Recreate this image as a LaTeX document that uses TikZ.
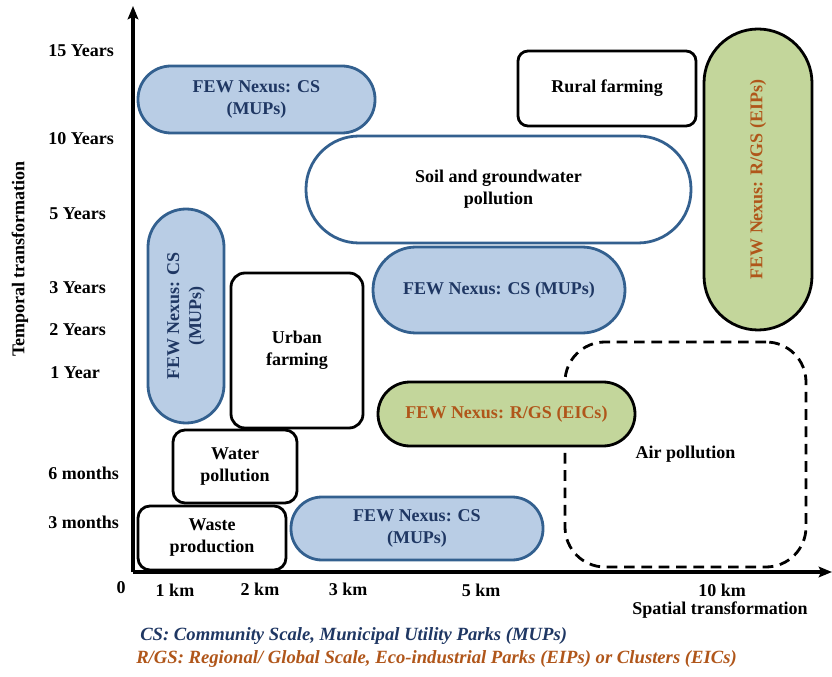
\documentclass[tikz,border=0pt]{standalone}
\usepackage{fontspec}
\setmainfont{Liberation Serif}
\usetikzlibrary{arrows.meta}
\definecolor{csfill}{HTML}{B9CDE5}
\definecolor{csline}{HTML}{33608F}
\definecolor{cstext}{HTML}{1F3763}
\definecolor{gsfill}{HTML}{C3D69B}
\definecolor{gstext}{HTML}{B0561A}
\tikzset{
  lbl/.style={font=\bfseries\fontsize{13.5pt}{16.5pt}\selectfont, align=center, inner sep=0pt},
  box/.style n args={3}{lbl, minimum width=#1*0.75pt, minimum height=#2*0.75pt, rounded corners=#3*0.75pt, line width=2.1pt},
  plain/.style={draw=black, fill=white},
  csbox/.style={draw=csline, fill=csfill, text=cstext},
  gsbox/.style={draw=black, fill=gsfill, text=gstext},
  soilbox/.style={draw=csline, fill=white},
  tick/.style={font=\bfseries\fontsize{13.5pt}{16pt}\selectfont, inner sep=0pt},
  axis/.style={line width=2.3pt, -{Stealth[length=10pt,width=8pt,inset=2pt]}},
  legend/.style={font=\bfseries\itshape\fontsize{14pt}{16pt}\selectfont, inner sep=0pt, anchor=west}
}
\begin{document}
\begin{tikzpicture}[x=0.75pt,y=-0.75pt]
\useasboundingbox (0,0) rectangle (832,677);

% air pollution region (behind everything else)
\node[box={241}{225}{40}, draw=black, dashed, dash pattern=on 8pt off 5pt, fill=white] (air) at (685.5,454.5) {Air pollution};

% community-scale parks
\node[box={237}{67}{33}, csbox] (cs1) at (256.5,99.5) {FEW Nexus: CS\\(MUPs)};
\node[box={252}{86}{43}, csbox] (cs2) at (499,290) {FEW Nexus: CS (MUPs)};
\node[box={214}{76}{38}, csbox, rotate=90] (cs3) at (186,316) {FEW Nexus: CS\\(MUPs)};
\node[box={252}{63}{31}, csbox] (cs4) at (417,528.5) {FEW Nexus: CS\\(MUPs)};

% regional / global scale parks and clusters
\node[box={301}{108}{54}, gsbox, rotate=90] (eip) at (758,179.5) {FEW Nexus: R/GS (EIPs)};
\node[box={257}{64}{32}, gsbox] (eic) at (506.5,414) {FEW Nexus: R/GS (EICs)};

% activities and impacts
\node[box={178}{75}{10}, plain] (rural) at (607,88.5) {Rural farming};
\node[box={385}{107}{53}, soilbox] (soil) at (498.5,189.5) {Soil and groundwater\\pollution};
\node[box={132}{155}{14}, plain] (urban) at (297,350.5) {Urban\\farming};
\node[box={124}{73}{12}, plain] (water) at (235,466.5) {Water\\pollution};
\node[box={148}{64}{12}, plain] (waste) at (212,538) {Waste\\production};

% axes
\coordinate (o) at (133,572);
\coordinate (ytop) at (133,6);
\coordinate (xend) at (832,572);
\draw[axis] (o) -- (ytop);
\draw[axis] (o) -- (xend);

% time ticks
\node[tick, anchor=west] (t15y) at (48,51) {15 Years};
\node[tick, anchor=west] (t10y) at (48,139) {10 Years};
\node[tick, anchor=west] (t5y) at (49,214) {5 Years};
\node[tick, anchor=west] (t3y) at (49,288) {3 Years};
\node[tick, anchor=west] (t2y) at (49,330) {2 Years};
\node[tick, anchor=west] (t1y) at (50,373) {1 Year};
\node[tick, anchor=west] (t6m) at (48,473) {6 months};
\node[tick, anchor=west] (t3m) at (48,522) {3 months};
\node[tick, rotate=90] (tlabel) at (20,259) {Temporal transformation};

% distance ticks
\node[tick] (d0) at (121,588) {0};
\node[tick] (d1) at (175,590) {1 km};
\node[tick] (d2) at (260,589) {2 km};
\node[tick] (d3) at (348,589) {3 km};
\node[tick] (d5) at (481,590) {5 km};
\node[tick] (d10) at (722,590) {10 km};
\node[tick] (slabel) at (720,610) {Spatial transformation};

% legend
\node[legend, text=cstext] (leg1) at (140,636) {CS: Community Scale, Municipal Utility Parks (MUPs)};
\node[legend, text=gstext] (leg2) at (136,659) {R/GS: Regional/ Global Scale, Eco-industrial Parks (EIPs) or Clusters (EICs)};
\end{tikzpicture}
\end{document}
